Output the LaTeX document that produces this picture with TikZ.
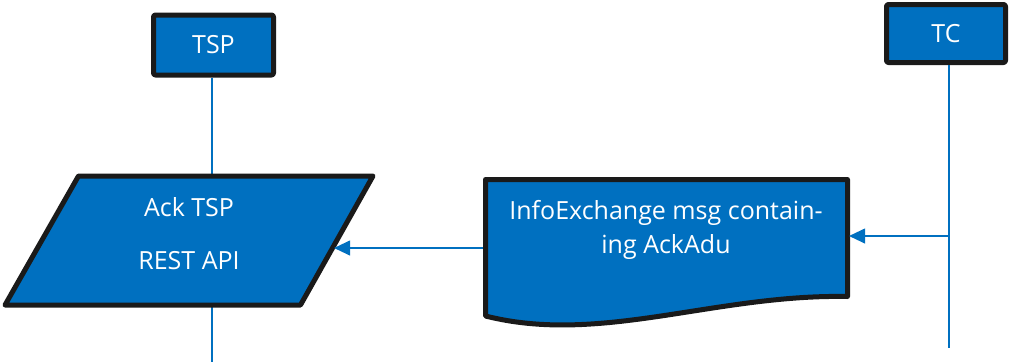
\documentclass[tikz,border=0pt]{standalone}
\usepackage{fontspec}
\setmainfont{Open Sans}
\usetikzlibrary{arrows.meta}
\definecolor{boxblue}{HTML}{0070C0}
\definecolor{edgeblack}{HTML}{1A1A1A}
\begin{document}
\begin{tikzpicture}[x=0.75pt,y=-0.75pt,
  shapeline/.style={draw=edgeblack,line width=3.75pt,line join=round,fill=boxblue},
  actor/.style={shapeline,rounded corners=1.5pt,inner sep=0pt,text=white,
    font=\fontsize{18.75}{22}\selectfont},
  label/.style={text=white,align=center,inner sep=0pt,font=\fontsize{18.75}{25.5}\selectfont},
  wire/.style={draw=boxblue,line width=1.5pt},
  msg/.style={wire,-{Triangle[length=12pt,width=11pt]}}]
\useasboundingbox (0,0) rectangle (1011,362);

% participants
\node[actor,minimum width=90pt,minimum height=45pt] (tsp) at (213.5,45) {TSP};
\node[actor,minimum width=89.25pt,minimum height=43.5pt] (tc) at (946,33.5) {TC};

% lifelines, drawn behind the shapes
\coordinate (tspend) at (212,362);
\coordinate (tcend) at (949,348);
\draw[wire] (tsp.south -| tspend) -- (tspend);
\draw[wire] (tc.south -| tcend) -- (tcend);

% input/output shape on the TSP side
\draw[shapeline] (78.5,176) -- (373,176) -- (300.5,305) -- (5,305) -- cycle;
\node[label] (api) at (189,233.5) {Ack TSP\\[14.25pt]REST API};
\coordinate (apiin) at (334,248);

% document shape carrying the message
\draw[shapeline] (485.5,179.5) -- (847.5,179.5) -- (847.5,296.5)
  .. controls (715,294) and (600,345) .. (485.5,316) -- cycle;
\node[label] (doc) at (666,230) {InfoExchange msg contain-\\ing AckAdu};
\coordinate (docin) at (849,236);
\coordinate (docout) at (483,248);

% messages
\coordinate (tcout) at (949,236);
\draw[msg] (tcout) -- (docin);
\draw[msg] (docout) -- (apiin);
\end{tikzpicture}
\end{document}
